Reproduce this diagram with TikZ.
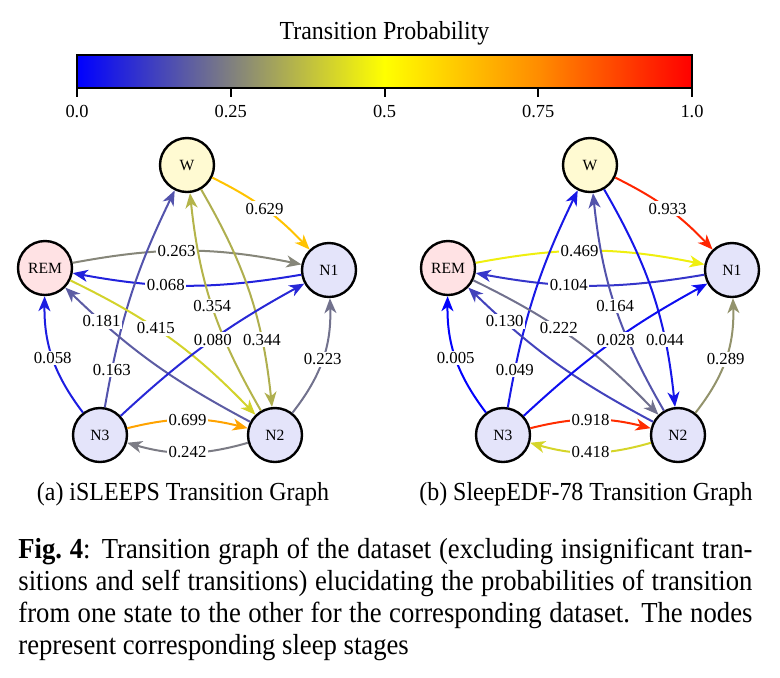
\documentclass[tikz,border=0pt]{standalone}
\usepackage{fontspec}
\setmainfont{Liberation Serif}
\newfontfamily\narrowfont[FakeStretch=0.92]{Liberation Serif}
\usetikzlibrary{arrows.meta}

% Mapa de colores: azul - gris - amarillo - naranja - rojo
\pgfdeclarehorizontalshading{probmap}{100bp}{rgb(0bp)=(0,0,1); rgb(25bp)=(0,0,1); rgb(37.5bp)=(.5,.5,.5); rgb(50bp)=(1,1,0); rgb(62.5bp)=(1,.55,0); rgb(75bp)=(1,0,0); rgb(100bp)=(1,0,0)}

\definecolor{wfill}{RGB}{255,250,210}
\definecolor{remfill}{RGB}{255,226,228}
\definecolor{nfill}{RGB}{228,228,250}

\tikzset{
  prob/.code={%
    \pgfmathtruncatemacro\pbr{(#1<0.25) ? 512*#1 : ((#1<0.5) ? 128+508*(#1-0.25) : 255)}%
    \pgfmathtruncatemacro\pbg{(#1<0.25) ? 512*#1 : ((#1<0.5) ? 128+508*(#1-0.25) : ((#1<0.75) ? 255-460*(#1-0.5) : 140-560*(#1-0.75)))}%
    \pgfmathtruncatemacro\pbb{(#1<0.25) ? 255-508*#1 : ((#1<0.5) ? 128-512*(#1-0.25) : 0)}%
    \definecolor{probcol}{RGB}{\pbr,\pbg,\pbb}%
    \pgfkeysalso{draw=probcol}%
  }
}

\begin{document}
\begin{tikzpicture}[x=0.5pt, y=-0.5pt,
  state/.style={circle, draw, line width=1.2pt, minimum size=27pt, inner sep=0pt, font=\fontsize{7.8}{9}\selectfont},
  wake/.style={state, fill=wfill},
  rem/.style={state, fill=remfill},
  nrem/.style={state, fill=nfill},
  edge/.style={line width=1pt, -{Stealth[length=7.5pt, width=6pt, inset=2.2pt]}},
  lbl/.style={fill=white, inner sep=0.8pt, font=\fontsize{8.4}{10}\selectfont},
  ticklbl/.style={font=\fontsize{9.2}{11}\selectfont},
  sub/.style={font=\narrowfont\fontsize{13}{14}\selectfont, inner sep=0pt}
]
\useasboundingbox (0,0) rectangle (780,677);

% Barra de colores
\node[font=\narrowfont\fontsize{13}{14}\selectfont] (title) at (384.5,33) {Transition Probability};
\node[draw, line width=1pt, shading=probmap, minimum width=307.5pt, minimum height=16.5pt, inner sep=0pt] (bar) at (384.5,71.5) {};
\foreach \x/\t [count=\i] in {77/0.0, 230.75/0.25, 384.5/0.5, 538.25/0.75, 692/1.0} {
  \draw[line width=1pt] (\x,88) -- (\x,97);
  \node[ticklbl] (tick\i) at (\x,112) {\t};
}

% (a) iSLEEPS
\node[wake] (aW) at (187,165) {W};
\node[rem] (aREM) at (45,268) {REM};
\node[nrem] (aN1) at (329,270) {N1};
\node[nrem] (aN3) at (100,435) {N3};
\node[nrem] (aN2) at (275,435) {N2};

\draw[edge, prob=0.629] (aW) to[bend left=10] node[lbl]{0.629} (aN1);
\draw[edge, prob=0.263] (aREM) to[bend left=11] node[lbl, pos=0.45]{0.263} (aN1);
\draw[edge, prob=0.068] (aN1) to[bend left=10] node[lbl, pos=0.6]{0.068} (aREM);
\draw[edge, prob=0.163] (aN3) to[bend left=8] node[lbl, pos=0.15]{0.163} (aW);
\draw[edge, prob=0.181] (aN2) to[bend left=8] node[lbl, pos=0.8]{0.181} (aREM);
\draw[edge, prob=0.415] (aREM) to[bend left=10] node[lbl, pos=0.42]{0.415} (aN2);
\draw[edge, prob=0.354] (aN2) to[bend left=12] node[lbl]{0.354} (aW);
\draw[edge, prob=0.344] (aW) to[bend left=12] node[lbl, pos=0.72]{0.344} (aN2);
\draw[edge, prob=0.080] (aN3) to[bend left=7] node[lbl, pos=0.53]{0.080} (aN1);
\draw[edge, prob=0.058] (aN3) to[bend left=19] node[lbl]{0.058} (aREM);
\draw[edge, prob=0.223] (aN2) to[bend right=20] node[lbl]{0.223} (aN1);
\draw[edge, prob=0.699] (aN3) to[bend left=14] node[lbl]{0.699} (aN2);
\draw[edge, prob=0.242] (aN2) to[bend left=16] node[lbl]{0.242} (aN3);

\node[sub] (suba) at (183,494) {(a) iSLEEPS Transition Graph};

% (b) SleepEDF-78
\node[wake] (bW) at (590,165) {W};
\node[rem] (bREM) at (448,268) {REM};
\node[nrem] (bN1) at (732,270) {N1};
\node[nrem] (bN3) at (503,435) {N3};
\node[nrem] (bN2) at (678,435) {N2};

\draw[edge, prob=0.933] (bW) to[bend left=10] node[lbl]{0.933} (bN1);
\draw[edge, prob=0.469] (bREM) to[bend left=11] node[lbl, pos=0.45]{0.469} (bN1);
\draw[edge, prob=0.104] (bN1) to[bend left=10] node[lbl, pos=0.6]{0.104} (bREM);
\draw[edge, prob=0.049] (bN3) to[bend left=8] node[lbl, pos=0.15]{0.049} (bW);
\draw[edge, prob=0.130] (bN2) to[bend left=8] node[lbl, pos=0.8]{0.130} (bREM);
\draw[edge, prob=0.222] (bREM) to[bend left=10] node[lbl, pos=0.42]{0.222} (bN2);
\draw[edge, prob=0.164] (bN2) to[bend left=12] node[lbl]{0.164} (bW);
\draw[edge, prob=0.044] (bW) to[bend left=12] node[lbl, pos=0.72]{0.044} (bN2);
\draw[edge, prob=0.028] (bN3) to[bend left=7] node[lbl, pos=0.53]{0.028} (bN1);
\draw[edge, prob=0.005] (bN3) to[bend left=19] node[lbl]{0.005} (bREM);
\draw[edge, prob=0.289] (bN2) to[bend right=20] node[lbl]{0.289} (bN1);
\draw[edge, prob=0.918] (bN3) to[bend left=14] node[lbl]{0.918} (bN2);
\draw[edge, prob=0.418] (bN2) to[bend left=16] node[lbl]{0.418} (bN3);

\node[sub] (subb) at (586,494) {(b) SleepEDF-78 Transition Graph};

% Pie de figura
\node[anchor=north west, inner sep=0pt, text width=367pt, align=justify, font=\narrowfont\fontsize{14.5}{16}\selectfont] (caption) at (18,538) {\textbf{Fig.~4}: Transition graph of the dataset (excluding insignificant tran-\linebreak sitions and self transitions) elucidating the probabilities of transition\linebreak from one state to the other for the corresponding dataset. The nodes\linebreak represent corresponding sleep stages};

\end{tikzpicture}
\end{document}
